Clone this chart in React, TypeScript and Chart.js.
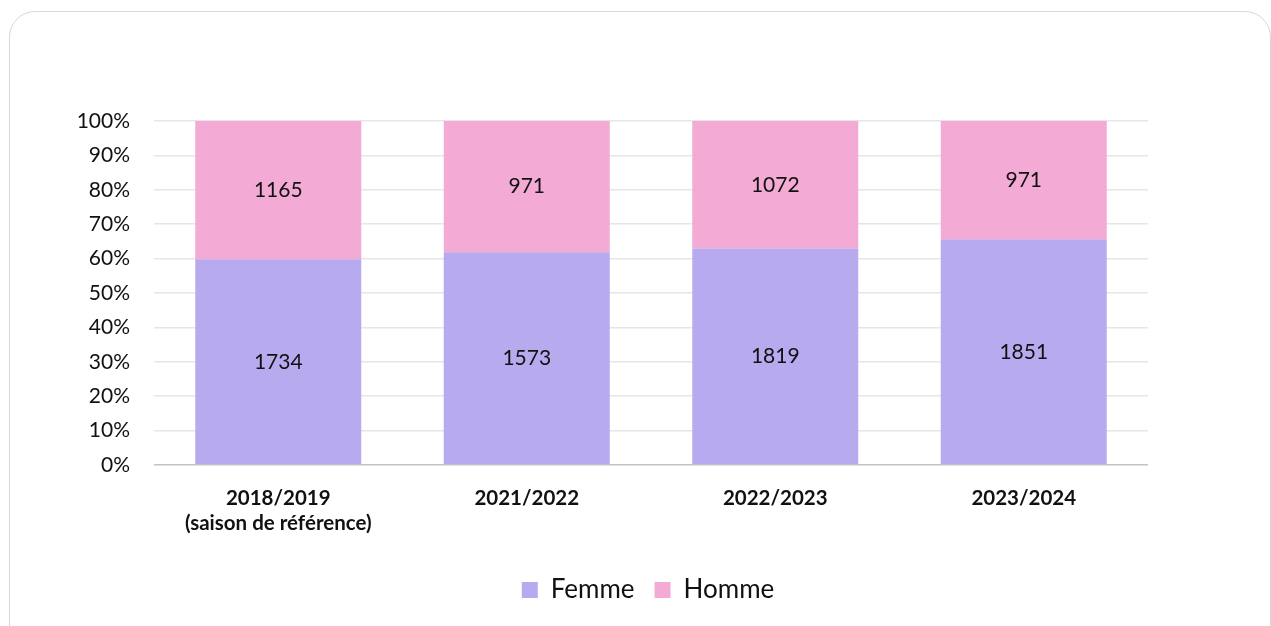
import React, { useEffect, useRef } from "react";
import { Chart, registerables } from "chart.js";

Chart.register(...registerables);

const categories: (string | string[])[] = [
  ["2018/2019", "(saison de référence)"],
  "2021/2022",
  "2022/2023",
  "2023/2024",
];
const femme = [1734, 1573, 1819, 1851];
const homme = [1165, 971, 1072, 971];
const seriesNames = ["Femme", "Homme"];
const yTicks = [0, 10, 20, 30, 40, 50, 60, 70, 80, 90, 100];

const FEMME_COLOR = "#b8aaee";
const HOMME_COLOR = "#f3aad4";

export default function App() {
  const ref = useRef<HTMLCanvasElement | null>(null);

  useEffect(() => {
    if (!ref.current) return;
    const totals = femme.map((f, i) => f + homme[i]);
    const femmePct = femme.map((f, i) => (f / totals[i]) * 100);
    const hommePct = homme.map((h, i) => (h / totals[i]) * 100);
    const counts = [femme, homme];

    const labelPlugin = {
      id: "segLabels",
      afterDatasetsDraw(chart: any) {
        const ctx = chart.ctx;
        ctx.save();
        ctx.font = "21px Lato";
        ctx.fillStyle = "#111111";
        ctx.textAlign = "center";
        ctx.textBaseline = "middle";
        chart.data.datasets.forEach((_ds: any, di: number) => {
          const meta = chart.getDatasetMeta(di);
          meta.data.forEach((bar: any, i: number) => {
            const y = (bar.y + bar.base) / 2;
            ctx.fillText(String(counts[di][i]), bar.x, y);
          });
        });
        ctx.restore();
      },
    };

    // Center the legend under the plot area instead of under the whole canvas
    const legendCenterPlugin = {
      id: "legendCenter",
      afterLayout(chart: any) {
        const lg = chart.legend;
        if (!lg) return;
        const area = chart.chartArea;
        const target = (area.left + area.right) / 2 - 3;
        const current = (lg.left + lg.right) / 2;
        const dx = target - current;
        lg.left += dx;
        lg.right += dx;
      },
    };

    const chart = new Chart(ref.current, {
      type: "bar",
      data: {
        labels: categories,
        datasets: [
          {
            label: seriesNames[0],
            data: femmePct,
            backgroundColor: FEMME_COLOR,
            barPercentage: 0.668,
            categoryPercentage: 1,
          },
          {
            label: seriesNames[1],
            data: hommePct,
            backgroundColor: HOMME_COLOR,
            barPercentage: 0.668,
            categoryPercentage: 1,
          },
        ],
      },
      options: {
        responsive: false,
        animation: false,
        layout: { padding: { left: 0, right: 123, top: 121, bottom: 13 } },
        plugins: {
          tooltip: { enabled: false },
          legend: {
            position: "bottom",
            labels: {
              font: { family: "Lato", size: 26 },
              color: "#111111",
              boxWidth: 16,
              boxHeight: 16,
              padding: 20,
            },
          },
        },
        scales: {
          x: {
            stacked: true,
            grid: { display: false, drawTicks: false },
            border: { display: false },
            ticks: {
              font: { family: "Lato", size: 20.5, weight: "bold", lineHeight: 1.22 },
              color: "#111111",
              padding: 21,
              maxRotation: 0,
            },
            afterFit(scale: any) {
              scale.height = 92;
            },
          },
          y: {
            stacked: true,
            min: 0,
            max: 100,
            afterBuildTicks(scale: any) {
              scale.ticks = yTicks.map((v) => ({ value: v }));
            },
            grid: {
              drawTicks: false,
              color: (c: any) => (c.tick && c.tick.value === 0 ? "#c4c4c4" : "#e6e6e6"),
              lineWidth: 1.5,
            },
            border: { display: false },
            ticks: {
              font: { family: "Lato", size: 21 },
              color: "#111111",
              padding: 24,
              callback: (v: any) => v + "%",
            },
            afterFit(scale: any) {
              scale.width = 154;
            },
          },
        },
      },
      plugins: [labelPlugin, legendCenterPlugin],
    });
    return () => chart.destroy();
  }, []);

  return (
    <div style={{ position: "fixed", left: 0, top: 0, width: 1271, height: 626, overflow: "hidden", background: "#fff" }}>
      <div
        style={{
          position: "absolute",
          left: 9,
          top: 11,
          width: 1262,
          height: 660,
          border: "1.5px solid #d8d8d8",
          borderRadius: 26,
          boxSizing: "border-box",
        }}
      />
      <canvas ref={ref} width={1271} height={626} style={{ position: "absolute", left: 0, top: 0 }} />
    </div>
  );
}
